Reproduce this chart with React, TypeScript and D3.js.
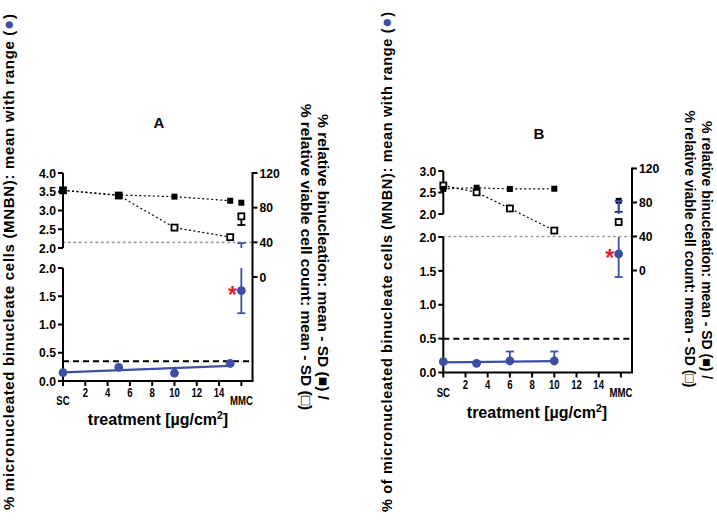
import React from "react";
import * as d3 from "d3";

// ---------- data ----------
const xTickValues = [0, 2, 4, 6, 8, 10, 12, 14, 16];
const xTickLabels = ["SC", "2", "4", "6", "8", "10", "12", "14", "MMC"];
const rightTickValues = [0, 40, 80, 120];
const lowTicks = [0, 0.5, 1.0, 1.5, 2.0];
const upTicksA = [2.0, 2.5, 3.0, 3.5, 4.0];
const upTicksB = [2.0, 2.5, 3.0];

// Panel A
const dosesA = [0, 5, 10, 15];
const mnbnA = [0.15, 0.24, 0.14, 0.31];
const binucA = [100, 94.6, 92.7, 88];
const viableA = [100, 94, 57, 46];
const mmcMnbnA = [1.6, 1.2, 2.13]; // mean, min, max
const mmcBinucA = [85.7, 0]; // mean, SD
const mmcViableA = [70, 10]; // mean, SD
const thresholdA = 0.35;
const cutoffA = 40;

// Panel B
const dosesB = [0, 3, 6, 10];
const mnbnB = [0.16, 0.135, 0.17, 0.17];
const mnbnMaxB = [0.16, 0.135, 0.31, 0.31];
const binucB = [96, 97.4, 95.9, 96.2];
const viableB = [100, 92, 73, 47];
const mmcMnbnB = [1.75, 1.41, 2.3];
const mmcBinucB = [82, 13];
const mmcViableB = [57, 0];
const thresholdB = 0.5;
const cutoffB = 40;

const BLUE = "#3d4fa3";
const RED = "#e0202a";
const FONT = "'Liberation Sans', Arial, sans-serif";

function regression(xs: number[], ys: number[]) {
  const mx = d3.mean(xs)!;
  const my = d3.mean(ys)!;
  const sxy = d3.sum(xs, (x, i) => (x - mx) * (ys[i] - my));
  const sxx = d3.sum(xs, (x) => (x - mx) ** 2);
  const b = sxy / sxx;
  return (x: number) => my + b * (x - mx);
}

function Lbl(props: { x: number; y: number; anchor: string; fs: number; sx: number; children: React.ReactNode }) {
  return (
    <g transform={`translate(${props.x},${props.y}) scale(${props.sx},1)`}>
      <text x={0} y={0} textAnchor={props.anchor} fontFamily={FONT} fontWeight="bold" fontSize={props.fs}>{props.children}</text>
    </g>
  );
}

type PanelProps = {
  label: string;
  labelPos: [number, number];
  x0: number; x1: number;
  yBottom: number; yLowTop: number;
  yUpBottom: number; yUpTop: number; upMax: number; upTicks: number[];
  yR0: number; yR120: number;
  doses: number[]; mnbn: number[]; mnbnMax?: number[];
  binuc: number[]; viable: number[];
  mmcMnbn: number[]; mmcBinuc: number[]; mmcViable: number[];
  threshold: number; cutoff: number;
  mmcX: number;
  tickFs: number; xTickFs: number;
  xTitle: [number, number]; xTitleFs: number;
};

function Panel(p: PanelProps) {
  const x = d3.scaleLinear().domain([0, 17]).range([p.x0, p.x1]);
  const yLow = d3.scaleLinear().domain([0, 2]).range([p.yBottom, p.yLowTop]);
  const yUp = d3.scaleLinear().domain([2, p.upMax]).range([p.yUpBottom, p.yUpTop]);
  const yR = d3.scaleLinear().domain([0, 120]).range([p.yR0, p.yR120]);
  const fit = regression(p.doses, p.mnbn);
  const dotted = d3.line<[number, number]>().x((d) => x(d[0])).y((d) => yR(d[1]));
  const lw = 2;
  const cap = 4;
  const sq = 6;
  const mx = x(p.mmcX);
  const [mMean, mMin, mMax] = p.mmcMnbn;
  const yOff = p.tickFs * 0.35;

  return (
    <g>
      <text x={p.labelPos[0]} y={p.labelPos[1]} fontFamily={FONT} fontWeight="bold" fontSize={15} textAnchor="middle">{p.label}</text>

      {/* reference lines */}
      <line x1={p.x0} x2={p.x1} y1={yR(p.cutoff)} y2={yR(p.cutoff)} stroke="#9a9a9a" strokeWidth={1.6} strokeDasharray="1.5,4" strokeLinecap="round" />
      <line x1={p.x0} x2={p.x1} y1={yLow(p.threshold)} y2={yLow(p.threshold)} stroke="#000" strokeWidth={2} strokeDasharray="6,4" />

      {/* axes */}
      <line x1={p.x0} x2={p.x0} y1={p.yUpTop} y2={p.yUpBottom} stroke="#000" strokeWidth={lw} />
      <line x1={p.x0} x2={p.x0} y1={p.yLowTop} y2={p.yBottom + 1} stroke="#000" strokeWidth={lw} />
      <line x1={p.x0 - 1} x2={p.x1 + 1} y1={p.yBottom} y2={p.yBottom} stroke="#000" strokeWidth={lw} />
      <line x1={p.x1} x2={p.x1} y1={p.yR120 - 1} y2={p.yBottom} stroke="#000" strokeWidth={lw} />

      {p.upTicks.map((t) => (
        <g key={"u" + t}>
          <line x1={p.x0 - 5} x2={p.x0} y1={yUp(t)} y2={yUp(t)} stroke="#000" strokeWidth={lw} />
          <Lbl x={p.x0 - 7} y={yUp(t) + yOff} anchor="end" fs={p.tickFs} sx={0.9}>{t.toFixed(1)}</Lbl>
        </g>
      ))}
      {lowTicks.map((t) => (
        <g key={"l" + t}>
          <line x1={p.x0 - 5} x2={p.x0} y1={yLow(t)} y2={yLow(t)} stroke="#000" strokeWidth={lw} />
          <Lbl x={p.x0 - 7} y={yLow(t) + yOff} anchor="end" fs={p.tickFs} sx={0.9}>{t.toFixed(1)}</Lbl>
        </g>
      ))}
      {rightTickValues.map((t) => (
        <g key={"r" + t}>
          <line x1={p.x1} x2={p.x1 + 5} y1={yR(t)} y2={yR(t)} stroke="#000" strokeWidth={lw} />
          <Lbl x={p.x1 + 7} y={yR(t) + yOff} anchor="start" fs={p.tickFs} sx={0.9}>{t}</Lbl>
        </g>
      ))}
      {xTickValues.map((t, i) => {
        const isCat = i === 0 || i === xTickValues.length - 1;
        return (
          <g key={"x" + t}>
            <line x1={x(t)} x2={x(t)} y1={p.yBottom} y2={p.yBottom + 5} stroke="#000" strokeWidth={lw} />
            <Lbl x={x(t)} y={p.yBottom + (isCat ? 24 : 16)} anchor="middle" fs={p.xTickFs} sx={0.8}>{xTickLabels[i]}</Lbl>
          </g>
        );
      })}
      <text x={p.xTitle[0]} y={p.xTitle[1]} textAnchor="middle" fontFamily={FONT} fontWeight="bold" fontSize={p.xTitleFs}>
        treatment [µg/cm<tspan dy={-6} fontSize={p.xTitleFs * 0.65}>2</tspan><tspan dy={6}>]</tspan>
      </text>

      {/* dotted connectors */}
      <path d={dotted(p.doses.map((d, i) => [d, p.viable[i]] as [number, number]))!} fill="none" stroke="#000" strokeWidth={1.2} strokeDasharray="2,2.5" />
      <path d={dotted(p.doses.map((d, i) => [d, p.binuc[i]] as [number, number]))!} fill="none" stroke="#000" strokeWidth={1.2} strokeDasharray="2,2.5" />

      {/* MMC SD bars */}
      {p.mmcViable[1] > 0 && (
        <g stroke="#000" strokeWidth={1.8}>
          <line x1={mx} x2={mx} y1={yR(p.mmcViable[0])} y2={yR(p.mmcViable[0] - p.mmcViable[1])} />
          <line x1={mx - cap} x2={mx + cap} y1={yR(p.mmcViable[0] - p.mmcViable[1])} y2={yR(p.mmcViable[0] - p.mmcViable[1])} />
        </g>
      )}
      {p.mmcBinuc[1] > 0 && (
        <g stroke="#1c2560" strokeWidth={1.8}>
          <line x1={mx} x2={mx} y1={yR(p.mmcBinuc[0])} y2={yR(p.mmcBinuc[0] - p.mmcBinuc[1])} />
          <line x1={mx - cap} x2={mx + cap} y1={yR(p.mmcBinuc[0] - p.mmcBinuc[1])} y2={yR(p.mmcBinuc[0] - p.mmcBinuc[1])} />
        </g>
      )}

      {/* open squares (viable) */}
      {p.doses.concat([p.mmcX]).map((d, i) => {
        const v = i < p.doses.length ? p.viable[i] : p.mmcViable[0];
        return <rect key={"o" + i} x={x(d) - sq / 2} y={yR(v) - sq / 2} width={sq} height={sq} fill="#fff" stroke="#000" strokeWidth={1.8} />;
      })}
      {/* filled squares (binucleation) */}
      {p.doses.concat([p.mmcX]).map((d, i) => {
        const v = i < p.doses.length ? p.binuc[i] : p.mmcBinuc[0];
        return <rect key={"f" + i} x={x(d) - sq / 2} y={yR(v) - sq / 2} width={sq} height={sq} fill="#000" />;
      })}

      {/* MNBN regression line & points */}
      <line x1={x(p.doses[0])} x2={x(p.doses[p.doses.length - 1])} y1={yLow(fit(p.doses[0]))} y2={yLow(fit(p.doses[p.doses.length - 1]))} stroke={BLUE} strokeWidth={2.2} />
      {p.mnbnMax && p.doses.map((d, i) => p.mnbnMax![i] > p.mnbn[i] + 0.02 ? (
        <g key={"e" + i} stroke={BLUE} strokeWidth={1.8}>
          <line x1={x(d)} x2={x(d)} y1={yLow(p.mnbn[i])} y2={yLow(p.mnbnMax![i])} />
          <line x1={x(d) - cap} x2={x(d) + cap} y1={yLow(p.mnbnMax![i])} y2={yLow(p.mnbnMax![i])} />
        </g>
      ) : null)}
      {p.doses.map((d, i) => (
        <circle key={"c" + i} cx={x(d)} cy={yLow(p.mnbn[i])} r={4.4} fill={BLUE} />
      ))}

      {/* MMC MNBN with range across break */}
      <g stroke={BLUE} strokeWidth={1.8}>
        <line x1={mx} x2={mx} y1={yLow(mMin)} y2={yLow(Math.min(mMax, 2))} />
        <line x1={mx - cap} x2={mx + cap} y1={yLow(mMin)} y2={yLow(mMin)} />
        {mMax > 2 && <line x1={mx} x2={mx} y1={yUp(2)} y2={yUp(mMax)} />}
        {mMax > 2 && <line x1={mx - cap} x2={mx + cap} y1={yUp(mMax)} y2={yUp(mMax)} />}
      </g>
      <circle cx={mx} cy={yLow(mMean)} r={4.4} fill={BLUE} />
      <text x={mx - 9} y={yLow(mMean) + 12} textAnchor="middle" fontFamily={FONT} fontWeight="bold" fontSize={23} fill={RED}>*</text>
    </g>
  );
}

export default function App() {
  return (
    <svg width={717} height={521} style={{ position: "absolute", left: 0, top: 0, background: "#fff" }}>
      <rect width={717} height={521} fill="#fff" />
      {/* left titles */}
      <text transform="translate(14,262) rotate(-90)" textAnchor="middle" fontFamily={FONT} fontWeight="bold" fontSize={15} textLength={496} lengthAdjust="spacing">
        % micronucleated binucleate cells (MNBN): mean with range (<tspan fill={BLUE} fontSize={17}>●</tspan>)
      </text>
      <text transform="translate(392,262) rotate(-90)" textAnchor="middle" fontFamily={FONT} fontWeight="bold" fontSize={14.5} textLength={500} lengthAdjust="spacing">
        % of micronucleated binucleate cells (MNBN): mean with range (<tspan fill={BLUE} fontSize={17}>●</tspan>)
      </text>
      {/* right titles A */}
      <text transform="translate(318,257) rotate(90)" textAnchor="middle" fontFamily={FONT} fontWeight="bold" fontSize={15.5}>
        % relative binucleation: mean - SD (■) /
      </text>
      <text transform="translate(301,257) rotate(90)" textAnchor="middle" fontFamily={FONT} fontWeight="bold" fontSize={15.5}>
        % relative viable cell count: mean - SD (□)
      </text>
      {/* right titles B */}
      <text transform="translate(702,250) rotate(90)" textAnchor="middle" fontFamily={FONT} fontWeight="bold" fontSize={14}>
        % relative binucleation: mean - SD (■) /
      </text>
      <text transform="translate(685,249) rotate(90)" textAnchor="middle" fontFamily={FONT} fontWeight="bold" fontSize={14}>
        % relative viable cell count: mean - SD (□)
      </text>

      <Panel
        label="A" labelPos={[159, 128]}
        x0={63} x1={252.5}
        yBottom={381} yLowTop={268}
        yUpBottom={248} yUpTop={173} upMax={4} upTicks={upTicksA}
        yR0={277} yR120={173}
        doses={dosesA} mnbn={mnbnA}
        binuc={binucA} viable={viableA}
        mmcMnbn={mmcMnbnA} mmcBinuc={mmcBinucA} mmcViable={mmcViableA}
        threshold={thresholdA} cutoff={cutoffA}
        mmcX={16}
        tickFs={13.5} xTickFs={12}
        xTitle={[158, 425]} xTitleFs={16}
      />
      <Panel
        label="B" labelPos={[539, 139]}
        x0={443.3} x1={632}
        yBottom={372.5} yLowTop={237}
        yUpBottom={214} yUpTop={171} upMax={3} upTicks={upTicksB}
        yR0={270.5} yR120={168.5}
        doses={dosesB} mnbn={mnbnB} mnbnMax={mnbnMaxB}
        binuc={binucB} viable={viableB}
        mmcMnbn={mmcMnbnB} mmcBinuc={mmcBinucB} mmcViable={mmcViableB}
        threshold={thresholdB} cutoff={cutoffB}
        mmcX={15.8}
        tickFs={13.5} xTickFs={12}
        xTitle={[537, 418]} xTitleFs={16}
      />
    </svg>
  );
}
